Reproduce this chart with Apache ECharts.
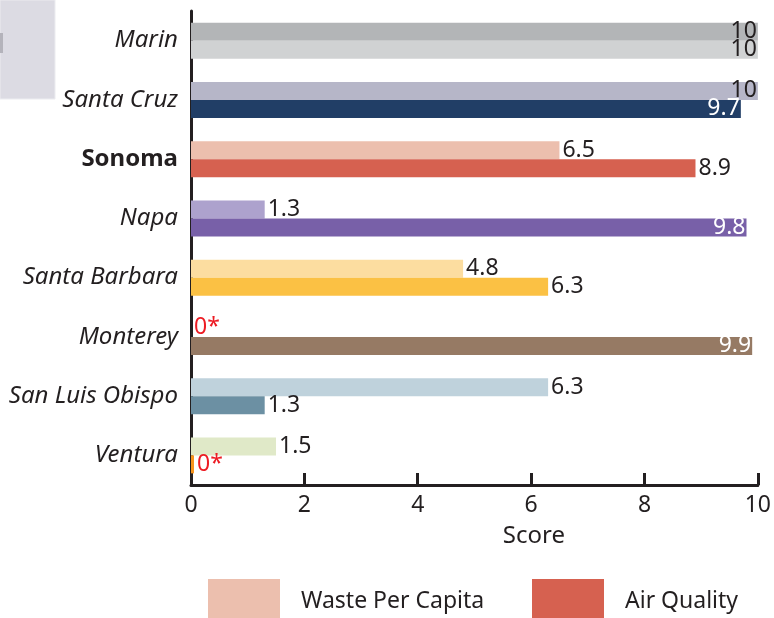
<!DOCTYPE html>
<html>
<head>
    <meta charset="UTF-8">
    <title>County scores</title>
    <script src="https://cdn.jsdelivr.net/npm/echarts@6/dist/echarts.min.js"></script>
    <style>
        html, body { margin: 0; padding: 0; background: #fff; }
        #main { width: 774px; height: 618px; }
    </style>
</head>
<body>
<div id="main"></div>
<script>
// counties top to bottom
var counties = ['Marin', 'Santa Cruz', 'Sonoma', 'Napa', 'Santa Barbara', 'Monterey', 'San Luis Obispo', 'Ventura'];
var wasteScore = [10, 10, 6.5, 1.3, 4.8, 0, 6.3, 1.5];
var airScore = [10, 9.7, 8.9, 9.8, 6.3, 9.9, 1.3, 0];
var scoreTicks = [0, 2, 4, 6, 8, 10];
var highlightCounty = 'Sonoma';

// each county has its own pair of colours
var wasteColors = ['#b3b5b7', '#b6b6c8', '#ecbfae', '#ada2cd', '#fcdda0', '#a39585', '#bfd2dc', '#e0e9c8'];
var airColors = ['#d0d2d3', '#213e66', '#d66150', '#7860a8', '#fbc144', '#967a64', '#6c90a3', '#f7941d'];

var ink = '#231f20';
var font = 'Noto Sans';

function isDark(hex) {
    var r = parseInt(hex.substr(1, 2), 16), g = parseInt(hex.substr(3, 2), 16), b = parseInt(hex.substr(5, 2), 16);
    return (0.299 * r + 0.587 * g + 0.114 * b) < 150;
}

function buildItems(values, colors) {
    return values.map(function (v, i) {
        var label;
        if (v === 0) {
            label = { position: 'right', distance: 3, color: '#ed1c24', formatter: '0*' };
        } else if (v >= 9.5) {
            label = { position: 'insideRight', distance: 1, color: isDark(colors[i]) ? '#fff' : ink };
        } else {
            label = { position: 'right', distance: 3, color: ink };
        }
        return { value: v, itemStyle: { color: colors[i] }, label: label };
    });
}

var barLabel = { show: true, fontFamily: font, fontSize: 23 };

var myChart = echarts.init(document.getElementById('main'));

var option = {
    animation: false,
    grid: { left: 191, right: 12, top: 11, bottom: 133 },
    graphic: [
        { type: 'rect', shape: { x: 0, y: 0, width: 55, height: 99 }, style: { fill: '#dcdbe3', stroke: '#ececf0', lineWidth: 1 }, z: 0 },
        { type: 'rect', shape: { x: 0, y: 33, width: 3, height: 20 }, style: { fill: '#b4b3bb' }, z: 1 }
    ],
    legend: [
        {
            data: ['Waste Per Capita'], left: 208, top: 579, padding: 0,
            itemWidth: 72, itemHeight: 45, icon: 'rect', selectedMode: false,
            textStyle: { fontFamily: font, fontSize: 23, color: ink, padding: [0, 0, 0, 16] }
        },
        {
            data: ['Air Quality'], left: 532, top: 579, padding: 0,
            itemWidth: 72, itemHeight: 45, icon: 'rect', selectedMode: false,
            textStyle: { fontFamily: font, fontSize: 23, color: ink, padding: [0, 0, 0, 16] }
        }
    ],
    xAxis: {
        type: 'value',
        min: scoreTicks[0],
        max: scoreTicks[scoreTicks.length - 1],
        interval: 2,
        name: 'Score',
        nameLocation: 'middle',
        nameGap: 39,
        nameTextStyle: { fontFamily: font, fontSize: 24, color: ink, padding: [0, 0, 0, 119] },
        axisLine: { show: true, lineStyle: { color: ink, width: 3 } },
        axisTick: { show: true, inside: true, length: 12, lineStyle: { color: ink, width: 3 } },
        axisLabel: { fontFamily: font, fontSize: 23, color: ink, margin: 9 },
        splitLine: { show: false }
    },
    yAxis: {
        type: 'category',
        inverse: true,
        data: counties,
        axisLine: { show: true, lineStyle: { color: ink, width: 3 } },
        axisTick: { show: false },
        axisLabel: {
            margin: 13,
            fontFamily: font,
            fontSize: 24,
            fontStyle: 'italic',
            color: ink,
            formatter: function (v) {
                return v === highlightCounty ? '{b|' + v + '}' : v;
            },
            rich: {
                b: { fontFamily: font, fontSize: 24, fontWeight: 'bold', fontStyle: 'normal', color: ink }
            }
        }
    },
    series: [
        {
            name: 'Waste Per Capita',
            type: 'bar',
            barWidth: 18,
            barGap: '0%',
            itemStyle: { color: wasteColors[2] },
            label: barLabel,
            data: buildItems(wasteScore, wasteColors)
        },
        {
            name: 'Air Quality',
            type: 'bar',
            barWidth: 18,
            barGap: '0%',
            barMinHeight: 3,
            itemStyle: { color: airColors[2] },
            label: barLabel,
            data: buildItems(airScore, airColors)
        }
    ]
};
myChart.setOption(option);
</script>
</body>
</html>
